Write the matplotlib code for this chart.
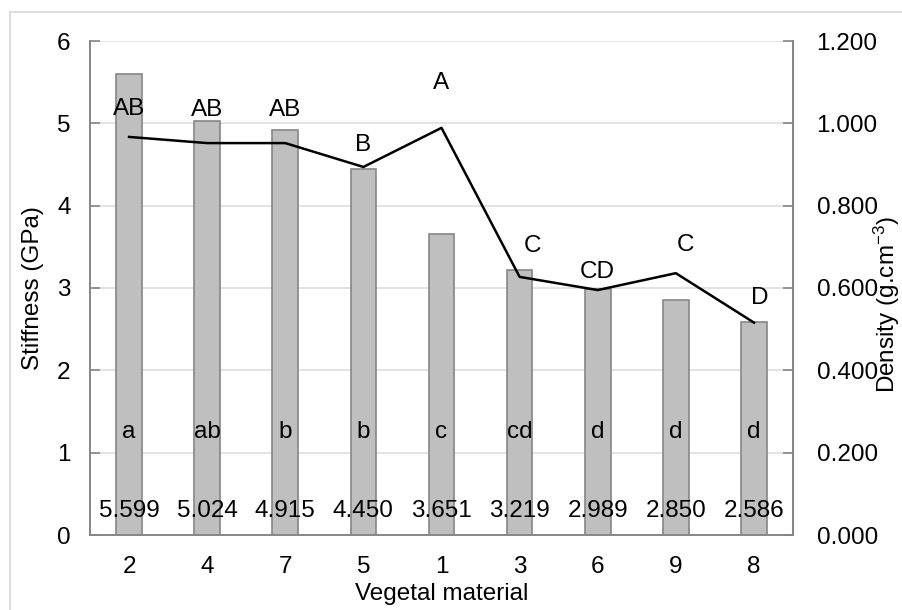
import matplotlib
matplotlib.use("Agg")
import matplotlib.pyplot as plt
from matplotlib.patches import Rectangle
import numpy as np

plt.rcParams['font.family'] = ['Liberation Sans', 'DejaVu Sans']
plt.rcParams['mathtext.fontset'] = 'custom'
plt.rcParams['mathtext.rm'] = 'Liberation Sans'
plt.rcParams['mathtext.it'] = 'Liberation Sans'

# Vegetal material samples, ordered by stiffness
materials = ['2', '4', '7', '5', '1', '3', '6', '9', '8']
stiffness = [5.599, 5.024, 4.915, 4.450, 3.651, 3.219, 2.989, 2.850, 2.586]
density = [0.967, 0.952, 0.952, 0.894, 0.989, 0.627, 0.595, 0.636, 0.516]
stiff_groups = ['a', 'ab', 'b', 'b', 'c', 'cd', 'd', 'd', 'd']
dens_groups = ['AB', 'AB', 'AB', 'B', 'A', 'C', 'CD', 'C', 'D']

# offsets (points) of the density group letters relative to each line vertex
dens_label_dx = [0, 0, 0, 0, 0, 9, 0, 7, 4]
dens_label_dy = [20, 24, 24, 16, 32, 22, 13, 20, 18]

fs = 17.5
grey = '#868686'

fig = plt.figure(figsize=(9.03, 6.10), dpi=100)
fig.patches.append(Rectangle((10 / 903, -0.1), 1.2, 0.1 + 1 - 12 / 610,
                             transform=fig.transFigure, fill=False,
                             edgecolor='#d9d9d9', linewidth=1.2))

ax = fig.add_axes([90 / 903, 75 / 610, 703 / 903, 494 / 610])
x = np.arange(len(materials))

ax.bar(x, stiffness, width=0.33, color='#bfbfbf', edgecolor=grey,
       linewidth=1.2, zorder=2)
ax.set_xlim(-0.5, len(materials) - 0.5)
ax.set_ylim(0, 6)
ax.set_yticks(range(0, 7))
ax.grid(axis='y', color='#dedede', linewidth=1.2, zorder=0)
ax.set_axisbelow(True)
ax.set_xticks(x)
ax.set_xticklabels(materials)
ax.tick_params(axis='x', length=0, pad=15, labelsize=fs)
ax.tick_params(axis='y', direction='in', length=7, color=grey, width=1.2,
               pad=14, labelsize=fs)
ax.spines['top'].set_visible(False)
for side in ['left', 'bottom', 'right']:
    ax.spines[side].set_color(grey)
    ax.spines[side].set_linewidth(1.2)
ax.set_ylabel('Stiffness (GPa)', fontsize=fs, labelpad=9)
ax.set_xlabel('Vegetal material', fontsize=fs, labelpad=4)

for i, (s, g) in enumerate(zip(stiffness, stiff_groups)):
    ax.text(i, 0.29, f'{s:.3f}', ha='center', va='center', fontsize=fs, zorder=4)
    ax.text(i, 1.25, g, ha='center', va='center', fontsize=fs, zorder=4)

ax2 = ax.twinx()
ax2.plot(x, density, color='black', linewidth=1.8, zorder=3)
ax2.set_ylim(0, 1.2)
ax2.set_yticks(np.arange(0, 1.21, 0.2))
ax2.yaxis.set_major_formatter(plt.FuncFormatter('{:.3f}'.format))
ax2.tick_params(axis='y', direction='in', length=7, color=grey, width=1.2,
                pad=17, labelsize=fs)
ax2.spines['top'].set_visible(False)
for side in ['left', 'bottom', 'right']:
    ax2.spines[side].set_color(grey)
    ax2.spines[side].set_linewidth(1.2)
ax2.set_ylabel('Density (g.cm$^{-3}$)', fontsize=fs)
ax2.yaxis.set_label_coords(887 / 903, 0.5, transform=fig.transFigure)
ax2.yaxis.label.set_va('center')

for i, (d, g) in enumerate(zip(density, dens_groups)):
    ax2.annotate(g, (i, d), xytext=(dens_label_dx[i], dens_label_dy[i]),
                 textcoords='offset points', ha='center', va='center',
                 fontsize=fs)

plt.savefig('out.png', dpi=100)
plt.close()
